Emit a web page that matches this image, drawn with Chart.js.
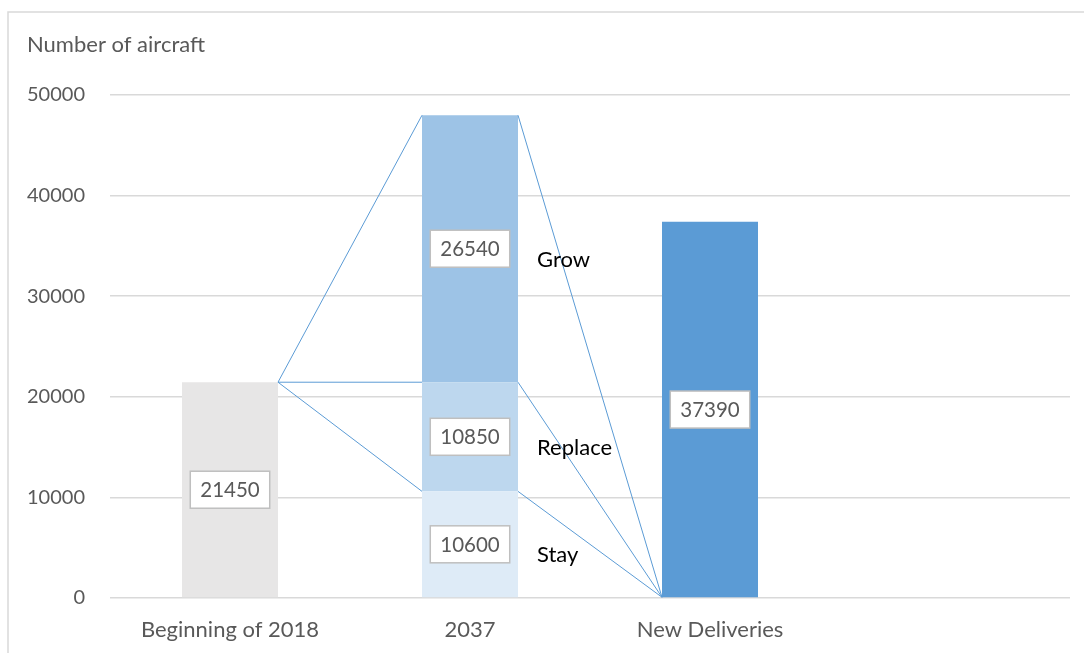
<!DOCTYPE html>
<html>
<head>
<meta charset="utf-8">
<script src="https://cdn.jsdelivr.net/npm/chart.js@4"></script>
<style>
    body { margin: 0; background: #fff; }
    #wrap { width: 1084px; height: 653px; position: relative; }
</style>
</head>
<body>
<div id="wrap"><canvas id="grafica1"></canvas></div>
<script>
    let categorias = ["Beginning of 2018", "2037", "New Deliveries", ""];
    let inicio2018 = [21450, null, null, null];
    let stay = [null, 10600, null, null];
    let replace = [null, 10850, null, null];
    let grow = [null, 26540, null, null];
    let entregas = [null, null, 37390, null];
    let nombresSegmentos = ["Stay", "Replace", "Grow"];
    let tituloEje = "Number of aircraft";
    let fuente = "Lato, 'Open Sans', sans-serif";

    let extras = {
        id: "extras",
        beforeDraw(chart) {
            let ctx = chart.ctx;
            ctx.save();
            ctx.strokeStyle = "#d9d9d9";
            ctx.lineWidth = 1.5;
            ctx.beginPath();
            ctx.moveTo(8, 653);
            ctx.lineTo(8, 12);
            ctx.lineTo(1084, 12);
            ctx.stroke();
            ctx.fillStyle = "#595959";
            ctx.font = "22px " + fuente;
            ctx.textBaseline = "middle";
            ctx.fillText(tituloEje, 27, 45);
            ctx.restore();
        },
        afterDatasetsDraw(chart) {
            let ctx = chart.ctx;
            let base = chart.getDatasetMeta(0).data[0];
            let segs = [1, 2, 3].map(i => chart.getDatasetMeta(i).data[1]);
            let nuevo = chart.getDatasetMeta(4).data[2];
            ctx.save();
            ctx.strokeStyle = "#5b9bd5";
            ctx.lineWidth = 1;
            ctx.beginPath();
            segs.forEach(s => {
                ctx.moveTo(base.x + base.width / 2, base.y);
                ctx.lineTo(s.x - s.width / 2, s.y);
                ctx.moveTo(s.x + s.width / 2, s.y);
                ctx.lineTo(nuevo.x - nuevo.width / 2, nuevo.base);
            });
            ctx.stroke();

            // etiquetas de valores
            ctx.font = "20.5px " + fuente;
            ctx.textAlign = "center";
            ctx.textBaseline = "middle";
            chart.data.datasets.forEach((ds, i) => {
                chart.getDatasetMeta(i).data.forEach((el, j) => {
                    let v = ds.data[j];
                    if (v == null) return;
                    let cy = (el.y + el.base) / 2;
                    let w = ctx.measureText(String(v)).width + 20;
                    let h = 37;
                    ctx.fillStyle = "#fff";
                    ctx.fillRect(el.x - w / 2, cy - h / 2, w, h);
                    ctx.strokeStyle = "#bfbfbf";
                    ctx.lineWidth = 1.5;
                    ctx.strokeRect(el.x - w / 2, cy - h / 2, w, h);
                    ctx.fillStyle = "#595959";
                    ctx.fillText(String(v), el.x, cy + 1);
                });
            });

            // nombres de segmentos
            ctx.font = "22px " + fuente;
            ctx.textAlign = "left";
            ctx.fillStyle = "#000";
            segs.forEach((s, k) => {
                ctx.fillText(nombresSegmentos[k], s.x + s.width / 2 + 19, (s.y + s.base) / 2 + 11);
            });
            ctx.restore();
        }
    };

    let grafica1 = document.getElementById("grafica1").getContext("2d");

    var chart = new Chart(grafica1, {
        type: "bar",
        data: {
            labels: categorias,
            datasets: [
                { label: "Beginning of 2018", backgroundColor: "#e7e6e6", data: inicio2018 },
                { label: "Stay", backgroundColor: "#deebf7", data: stay },
                { label: "Replace", backgroundColor: "#bdd7ee", data: replace },
                { label: "Grow", backgroundColor: "#9dc3e6", data: grow },
                { label: "New Deliveries", backgroundColor: "#5b9bd5", data: entregas }
            ]
        },
        options: {
            responsive: true,
            maintainAspectRatio: false,
            animation: false,
            layout: { padding: { top: 95, right: 14, left: 0, bottom: 0 } },
            datasets: { bar: { categoryPercentage: 1, barPercentage: 0.4, skipNull: true } },
            plugins: { legend: { display: false }, tooltip: { enabled: false } },
            scales: {
                x: {
                    stacked: true,
                    grid: { display: false },
                    border: { display: false },
                    ticks: { color: "#595959", font: { family: fuente, size: 22 }, padding: 11 },
                    afterFit(s) { s.height = 55; }
                },
                y: {
                    stacked: true,
                    min: 0,
                    max: 50000,
                    grid: { color: "#d9d9d9", lineWidth: 1.5, drawTicks: false },
                    border: { display: false },
                    ticks: {
                        stepSize: 10000,
                        color: "#595959",
                        font: { family: fuente, size: 20 },
                        padding: 25,
                        callback: v => String(v)
                    },
                    afterFit(s) { s.width = 110; }
                }
            }
        },
        plugins: [extras]
    });
</script>
</body>
</html>
